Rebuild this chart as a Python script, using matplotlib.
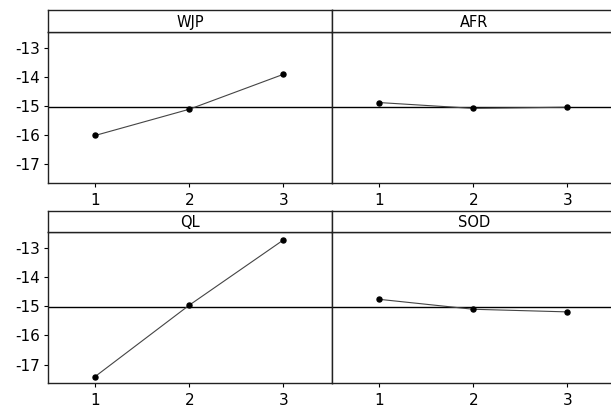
import matplotlib
matplotlib.use("Agg")
import matplotlib.pyplot as plt

levels = [1, 2, 3]
factors = ["WJP", "AFR", "QL", "SOD"]
wjp = [-16.01, -15.11, -13.91]
afr = [-14.88, -15.08, -15.04]
ql = [-17.41, -14.97, -12.74]
sod = [-14.77, -15.11, -15.20]
grand_mean = -15.04
yticks = [-13, -14, -15, -16, -17]
series = [wjp, afr, ql, sod]

plt.rcParams['font.family'] = ['DejaVu Sans']
fig = plt.figure(figsize=(6.11, 4.05), dpi=100)

W = 611.0
H = 405.0
left_px = [48.0, 332.0]
width_px = 284.0
rows = [  # (plot_top, plot_bottom, header_top)
    (32.0, 183.0, 10.0),
    (231.7, 383.3, 210.7),
]

for i, (name, vals) in enumerate(zip(factors, series)):
    r, c = divmod(i, 2)
    top, bot, htop = rows[r]
    lx = left_px[c]
    ax = fig.add_axes([lx / W, 1 - bot / H, width_px / W, (bot - top) / H])
    hax = fig.add_axes([lx / W, 1 - top / H, width_px / W, (top - htop) / H])
    hax.set_xticks([])
    hax.set_yticks([])
    hax.text(0.5, 0.45, name, ha='center', va='center', fontsize=10.5,
             transform=hax.transAxes)
    for s in hax.spines.values():
        s.set_linewidth(1.0)
        s.set_color('#222222')

    ax.axhline(grand_mean, color='black', lw=1.0, zorder=1)
    ax.plot(levels, vals, color='#444444', lw=0.8, marker='o', ms=3.6,
            mfc='black', mec='black', zorder=3)
    ax.set_xlim(0.5, 3.515)
    ax.set_ylim(-17.64, -12.46)
    ax.set_xticks(levels)
    ax.set_xticklabels([str(v) for v in levels], fontsize=11)
    ax.set_yticks(yticks)
    if c == 0:
        ax.set_yticklabels([str(v) for v in yticks], fontsize=11)
        ax.tick_params(axis='y', length=3, width=0.8, pad=3)
    else:
        ax.tick_params(axis='y', left=False, labelleft=False)
    ax.tick_params(axis='x', length=3, width=0.8, pad=4)
    for s in ax.spines.values():
        s.set_linewidth(1.0)
        s.set_color('#222222')

fig.savefig("out.png", dpi=100)
